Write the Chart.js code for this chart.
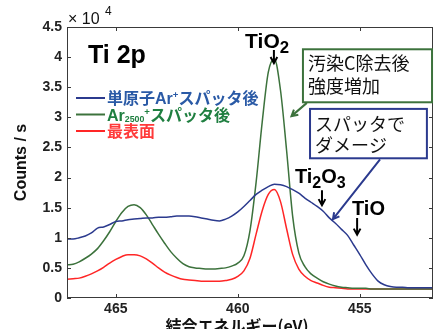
<!DOCTYPE html>
<html>
<head>
<meta charset="utf-8">
<script src="https://cdn.jsdelivr.net/npm/chart.js@4"></script>
<style>
  html, body { margin: 0; padding: 0; background: #fff; overflow: hidden; }
  #wrap { position: relative; width: 436px; height: 340px; }
</style>
</head>
<body>
<div id="wrap"><canvas id="xps"></canvas></div>
<script>
// binding energy (eV)
const energia = [467, 466.75, 466.5, 466.25, 466, 465.75, 465.5, 465.25, 465, 464.75, 464.5, 464.25,
  464, 463.75, 463.5, 463.25, 463, 462.75, 462.5, 462.25, 462, 461.75, 461.5, 461.25,
  461, 460.75, 460.5, 460.25, 460, 459.75, 459.5, 459.25, 459, 458.75, 458.5, 458.25,
  458, 457.75, 457.5, 457.25, 457, 456.75, 456.5, 456.25, 456, 455.75, 455.5, 455.25,
  455, 454.75, 454.5, 454.25, 454, 453.75, 453.5, 453.25, 453, 452.75, 452.5, 452.25, 452];

// counts / s (x 10^4)
const monoAr = [0.98, 0.98, 1.00, 1.03, 1.08, 1.16, 1.18, 1.22, 1.27, 1.28, 1.30, 1.31,
  1.32, 1.33, 1.33, 1.34, 1.34, 1.35, 1.36, 1.36, 1.36, 1.35, 1.33, 1.31,
  1.29, 1.28, 1.31, 1.36, 1.43, 1.52, 1.62, 1.72, 1.79, 1.85, 1.89, 1.88,
  1.85, 1.80, 1.74, 1.66, 1.59, 1.52, 1.44, 1.33, 1.24, 1.14, 1.04, 0.88,
  0.72, 0.55, 0.40, 0.28, 0.22, 0.19, 0.18, 0.18, 0.17, 0.17, 0.17, 0.17, 0.17];

const gcib = [0.55, 0.56, 0.60, 0.66, 0.73, 0.82, 0.95, 1.10, 1.27, 1.42, 1.52, 1.55,
  1.50, 1.38, 1.22, 1.06, 0.91, 0.77, 0.66, 0.57, 0.52, 0.50, 0.49, 0.48,
  0.48, 0.49, 0.50, 0.53, 0.58, 0.70, 1.12, 1.92, 2.92, 3.75, 3.97, 3.45,
  2.45, 1.35, 0.75, 0.52, 0.40, 0.33, 0.27, 0.23, 0.20, 0.18, 0.17, 0.16,
  0.16, 0.16, 0.15, 0.15, 0.15, 0.15, 0.15, 0.15, 0.15, 0.15, 0.15, 0.15, 0.15];

const superficie = [0.31, 0.32, 0.33, 0.36, 0.40, 0.45, 0.51, 0.58, 0.64, 0.69, 0.72, 0.72,
  0.70, 0.65, 0.58, 0.50, 0.43, 0.38, 0.34, 0.31, 0.30, 0.29, 0.28, 0.28,
  0.28, 0.28, 0.29, 0.31, 0.36, 0.45, 0.66, 1.06, 1.45, 1.72, 1.80, 1.60,
  1.15, 0.72, 0.48, 0.36, 0.29, 0.25, 0.21, 0.18, 0.17, 0.16, 0.15, 0.15,
  0.15, 0.15, 0.15, 0.15, 0.15, 0.15, 0.15, 0.15, 0.15, 0.15, 0.15, 0.15, 0.15];

const xTicks = [455, 460, 465];

const AZUL = '#2b3a8e', VERDE = '#3c723c', VERMELHO = '#ff2626';
const JP = '"Noto Sans CJK JP", sans-serif';
const LAT = '"Liberation Sans", Arial, sans-serif';

function pontos(vals) {
  return energia.map((e, i) => ({ x: e, y: vals[i] }));
}

function runs(ctx, x, y, parts, size, weight, color) {
  ctx.fillStyle = color;
  for (const [t, k, dy, fam] of parts) {
    ctx.font = weight + ' ' + (size * k) + 'px ' + (fam || JP);
    ctx.fillText(t, x, y + dy);
    x += ctx.measureText(t).width;
  }
}

function seta(ctx, x1, y1, x2, y2, cor) {
  const ang = Math.atan2(y2 - y1, x2 - x1), h = 7;
  ctx.strokeStyle = cor;
  ctx.lineWidth = 2;
  ctx.beginPath();
  ctx.moveTo(x1, y1); ctx.lineTo(x2, y2);
  ctx.moveTo(x2 - h * Math.cos(ang - 0.5), y2 - h * Math.sin(ang - 0.5));
  ctx.lineTo(x2, y2);
  ctx.lineTo(x2 - h * Math.cos(ang + 0.5), y2 - h * Math.sin(ang + 0.5));
  ctx.stroke();
}

const anotacoes = {
  id: 'anotacoes',
  afterDraw(chart) {
    const { ctx, chartArea: a, scales: { x, y } } = chart;
    const P = (e, v) => [x.getPixelForValue(e), y.getPixelForValue(v)];
    ctx.save();

    // frame + inward ticks (matlab style)
    ctx.strokeStyle = '#3a3a3a';
    ctx.lineWidth = 1;
    ctx.strokeRect(a.left + 0.5, a.top + 0.5, a.width - 1, a.height - 1);
    ctx.beginPath();
    xTicks.forEach(t => {
      const px = Math.round(x.getPixelForValue(t)) + 0.5;
      ctx.moveTo(px, a.bottom); ctx.lineTo(px, a.bottom - 4);
      ctx.moveTo(px, a.top); ctx.lineTo(px, a.top + 4);
    });
    y.ticks.forEach(t => {
      const py = Math.round(y.getPixelForValue(t.value)) + 0.5;
      ctx.moveTo(a.left, py); ctx.lineTo(a.left + 4, py);
      ctx.moveTo(a.right, py); ctx.lineTo(a.right - 4, py);
    });
    ctx.stroke();

    // x axis title (sits a little left of centre in the original)
    ctx.fillStyle = '#111';
    ctx.font = 'bold 16px ' + JP;
    ctx.textAlign = 'center';
    ctx.textBaseline = 'middle';
    ctx.fillText('結合エネルギー(eV)', a.left + 170, a.bottom + 28);
    ctx.textAlign = 'left';

    // x 10^4
    ctx.textBaseline = 'alphabetic';
    ctx.font = '16px ' + LAT;
    ctx.fillText('× 10', a.left + 1, a.top - 3);
    ctx.font = '12px ' + LAT;
    ctx.fillText('4', a.left + 38, a.top - 12);

    // Ti 2p
    ctx.font = 'bold 25px ' + LAT;
    ctx.fillStyle = '#000';
    let [tx, ty] = P(466.14, 3.90);
    ctx.fillText('Ti 2p', tx, ty);

    // legend
    const leg = [
      [AZUL, '#2a5aa6', [['単原子', 1, 0], ['Ar', 1, 0, LAT], ['+', 0.6, -6, LAT], ['スパッタ後', 1, 0]]],
      [VERDE, '#1f7f40', [['Ar', 1, 0, LAT], ['2500', 0.55, 1, LAT], ['+', 0.6, -6, LAT], ['スパッタ後', 1, 0]]],
      [VERMELHO, '#ff3a3a', [['最表面', 1, 0]]]
    ];
    leg.forEach(([linha, texto, parts], i) => {
      const ly = a.top + 71 + i * 16.5;
      ctx.strokeStyle = linha; ctx.lineWidth = 2;
      ctx.beginPath(); ctx.moveTo(a.left + 9, ly); ctx.lineTo(a.left + 38, ly); ctx.stroke();
      runs(ctx, a.left + 40, ly + 6, parts, 16, 'bold', texto);
    });

    // TiO2 label + arrow
    [tx, ty] = P(459.70, 4.15);
    runs(ctx, tx, ty, [['TiO', 1, 0, LAT], ['2', 0.8, 5, LAT]], 21, 'bold', '#000');
    let [ax, ay1] = P(458.52, 4.12), [, ay2] = P(458.52, 3.90);
    seta(ctx, ax, ay1, ax, ay2, '#000');

    // green box
    let [bx1, by1] = P(457.33, 4.13), [bx2, by2] = P(452.04, 3.25);
    ctx.fillStyle = '#fff';
    ctx.fillRect(bx1, by1, bx2 - bx1, by2 - by1);
    ctx.strokeStyle = VERDE; ctx.lineWidth = 2;
    ctx.strokeRect(bx1, by1, bx2 - bx1, by2 - by1);
    ctx.fillStyle = '#111';
    ctx.font = '18px ' + JP;
    ctx.fillText('汚染C除去後', bx1 + 5, by1 + 21);
    ctx.fillText('強度増加', bx1 + 5, by1 + 44);
    let [s1x, s1y] = P(457.17, 3.24), [s2x, s2y] = P(457.80, 3.02);
    seta(ctx, s1x, s1y, s2x, s2y, VERDE);

    // blue box
    [bx1, by1] = P(457.04, 3.14); [bx2, by2] = P(452.25, 2.32);
    ctx.fillStyle = '#fff';
    ctx.fillRect(bx1, by1, bx2 - bx1, by2 - by1);
    ctx.strokeStyle = AZUL; ctx.lineWidth = 2;
    ctx.strokeRect(bx1, by1, bx2 - bx1, by2 - by1);
    ctx.fillStyle = '#111';
    ctx.font = '18px ' + JP;
    ctx.fillText('スパッタで', bx1 + 5, by1 + 22);
    ctx.fillText('ダメージ', bx1 + 5, by1 + 43);
    [s1x, s1y] = P(454.17, 2.30); [s2x, s2y] = P(456.10, 1.31);
    seta(ctx, s1x, s1y, s2x, s2y, AZUL);

    // Ti2O3
    [tx, ty] = P(457.66, 1.91);
    runs(ctx, tx, ty, [['Ti', 1, 0, LAT], ['2', 0.8, 5, LAT], ['O', 1, 0, LAT], ['3', 0.8, 5, LAT]], 20, 'bold', '#000');
    [ax, ay1] = P(456.55, 1.79); [, ay2] = P(456.55, 1.54);
    seta(ctx, ax, ay1, ax, ay2, '#000');

    // TiO
    [tx, ty] = P(455.32, 1.38);
    runs(ctx, tx, ty, [['TiO', 1, 0, LAT]], 20, 'bold', '#000');
    [ax, ay1] = P(455.11, 1.33); [, ay2] = P(455.11, 1.05);
    seta(ctx, ax, ay1, ax, ay2, '#000');

    ctx.restore();
  }
};

new Chart(document.getElementById('xps'), {
  type: 'line',
  data: {
    datasets: [
      { label: '単原子Ar+スパッタ後', data: pontos(monoAr), borderColor: AZUL },
      { label: 'Ar2500+スパッタ後', data: pontos(gcib), borderColor: VERDE },
      { label: '最表面', data: pontos(superficie), borderColor: VERMELHO }
    ]
  },
  options: {
    responsive: true,
    maintainAspectRatio: false,
    animation: false,
    layout: { padding: { top: 27, right: 3, left: 0, bottom: 0 } },
    elements: {
      point: { radius: 0 },
      line: { borderWidth: 1.5, cubicInterpolationMode: 'monotone' }
    },
    plugins: { legend: { display: false }, tooltip: { enabled: false } },
    scales: {
      x: {
        type: 'linear',
        reverse: true,
        min: 452,
        max: 467,
        afterBuildTicks: s => { s.ticks = xTicks.map(v => ({ value: v })); },
        afterFit: s => { s.height = 42; },
        grid: { display: false, drawTicks: false },
        border: { display: false },
        ticks: { padding: 3, color: '#222', font: { family: LAT, size: 14, weight: 'bold' } }
      },
      y: {
        min: 0,
        max: 4.5,
        afterFit: s => { s.width = 67; },
        grid: { display: false, drawTicks: false },
        border: { display: false },
        ticks: {
          stepSize: 0.5,
          padding: 5,
          color: '#222',
          font: { family: LAT, size: 14, weight: 'bold' },
          callback: v => String(v)
        },
        title: {
          display: true,
          text: 'Counts / s',
          color: '#111',
          padding: { top: 12, bottom: 0 },
          font: { family: LAT, size: 16, weight: 'bold' }
        }
      }
    }
  },
  plugins: [anotacoes]
});
</script>
</body>
</html>
